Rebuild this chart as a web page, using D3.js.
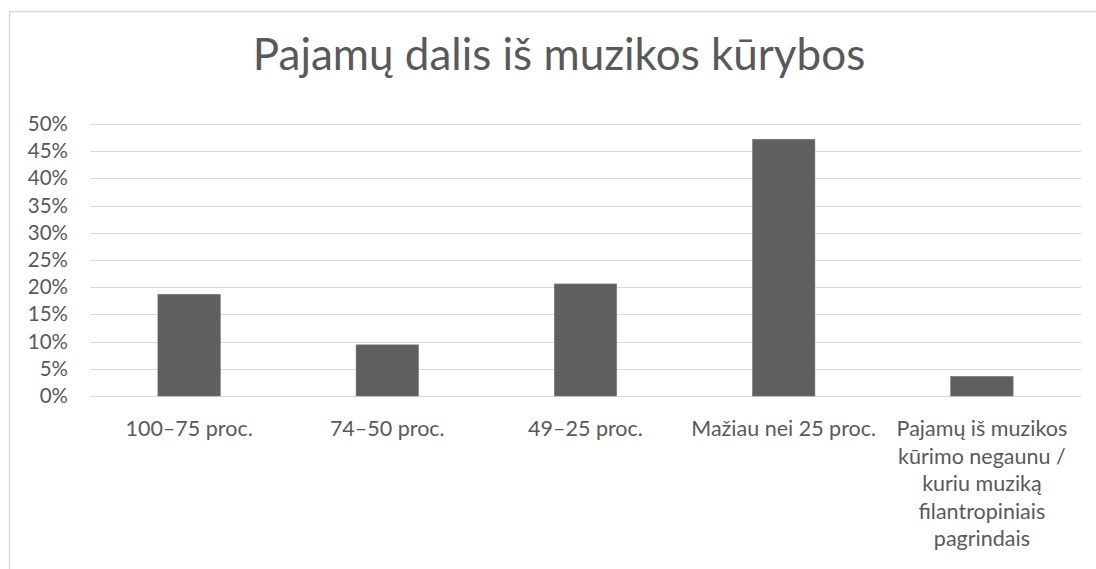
<!DOCTYPE html>
<html>
<head>
<meta charset="utf-8">
<script src="https://cdn.jsdelivr.net/npm/d3@7"></script>
<style>
  body { margin: 0; background: #fff; }
  svg { display: block; font-family: Lato, "Open Sans", sans-serif; }
</style>
</head>
<body>
<svg id="chart" width="1096" height="569"></svg>
<script>
// chart data
var title = "Pajamų dalis iš muzikos kūrybos";
var categories = [
  "100–75 proc.",
  "74–50 proc.",
  "49–25 proc.",
  "Mažiau nei 25 proc.",
  "Pajamų iš muzikos|kūrimo negaunu /|kuriu muziką|filantropiniais|pagrindais"
];
var shares = [0.187, 0.094, 0.206, 0.472, 0.036];
var yTicks = [0, 0.05, 0.10, 0.15, 0.20, 0.25, 0.30, 0.35, 0.40, 0.45, 0.50];

var textColor = "#595959";
var gridColor = "#d9d9d9";

var svg = d3.select("#chart");

// chart area frame (only top and left edges are visible in the picture)
svg.append("path")
  .attr("d", "M9.5,569 V11.5 H1096")
  .attr("fill", "none")
  .attr("stroke", gridColor)
  .attr("stroke-width", 1.5);

var plot = { left: 90, right: 1081, top: 124, bottom: 396 };

var x = d3.scaleBand()
  .domain(categories)
  .range([plot.left, plot.right]);

var y = d3.scaleLinear()
  .domain([0, 0.5])
  .range([plot.bottom, plot.top]);

// title
svg.append("text")
  .attr("x", 559)
  .attr("y", 70)
  .attr("text-anchor", "middle")
  .attr("fill", textColor)
  .style("font-size", "44px")
  .style("font-weight", 400)
  .text(title);

// gridlines
svg.append("g")
  .selectAll("line")
  .data(yTicks)
  .join("line")
  .attr("x1", plot.left)
  .attr("x2", plot.right)
  .attr("y1", function(d) { return Math.round(y(d)) + 0.5; })
  .attr("y2", function(d) { return Math.round(y(d)) + 0.5; })
  .attr("stroke", gridColor)
  .attr("stroke-width", 1);

// y axis labels
var yAxis = d3.axisLeft(y)
  .tickValues(yTicks)
  .tickFormat(d3.format(".0%"))
  .tickSize(0)
  .tickPadding(0);

var yg = svg.append("g")
  .attr("transform", "translate(68,0)")
  .call(yAxis);
yg.select(".domain").remove();
yg.selectAll("text")
  .attr("fill", textColor)
  .style("font-size", "20.5px")
  .style("font-family", "Lato, 'Open Sans', sans-serif");

// bars
var barW = x.bandwidth() * 0.315;
svg.append("g")
  .selectAll("rect")
  .data(shares)
  .join("rect")
  .attr("x", function(d, i) { return x(categories[i]) + (x.bandwidth() - barW) / 2; })
  .attr("y", function(d) { return y(d); })
  .attr("width", barW)
  .attr("height", function(d) { return y(0) - y(d); })
  .attr("fill", "#5f5f5f")
  .attr("stroke", "#7a7a7a")
  .attr("stroke-width", 0.6);

// category labels
var xg = svg.append("g");
categories.forEach(function(c) {
  var lines = c.split("|");
  var t = xg.append("text")
    .attr("text-anchor", "middle")
    .attr("fill", textColor)
    .style("font-size", "21.5px");
  lines.forEach(function(line, j) {
    t.append("tspan")
      .attr("x", x(c) + x.bandwidth() / 2)
      .attr("y", 436 + j * 27.5)
      .text(line);
  });
});
</script>
</body>
</html>
